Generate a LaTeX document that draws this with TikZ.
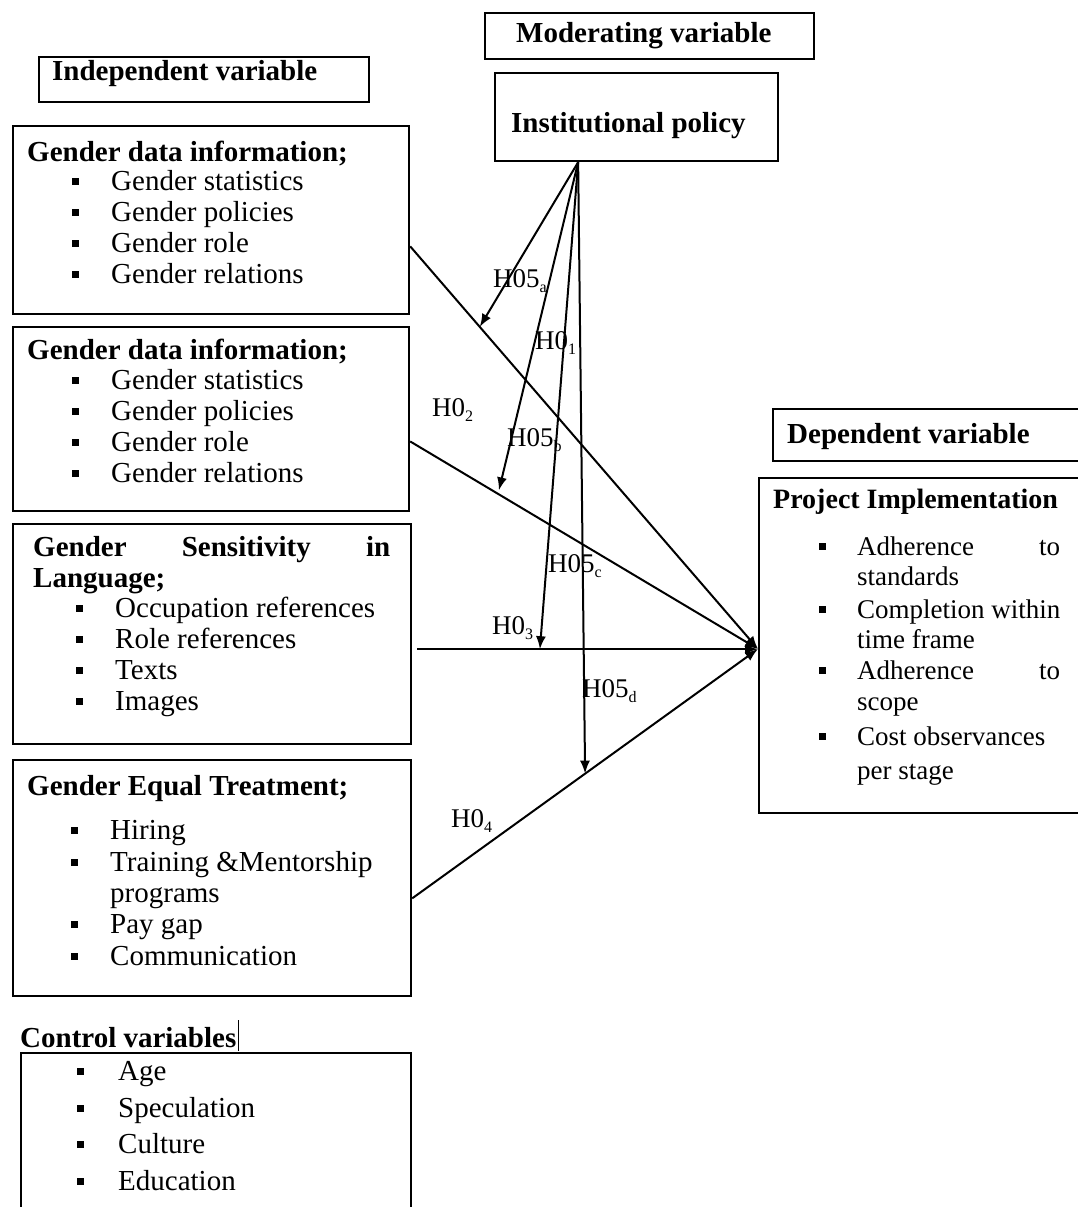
\documentclass[tikz,border=0pt]{standalone}
\usepackage{fontspec}
\setmainfont{Liberation Serif}
\usetikzlibrary{calc,arrows.meta}
\newcommand{\hsub}[1]{\raisebox{-5pt}{\fontsize{16}{16}\selectfont #1}}
\newcommand{\bitem}[6][txt]{\node[bul] (#2b) at (#3,#5-9) {}; \node[#1] (#2) at (#4,#5) {#6};}
\begin{document}
\begin{tikzpicture}[x=1pt,y=-1pt,
  box/.style={draw,line width=2.2pt,anchor=north west,inner sep=0pt,rectangle},
  txt/.style={anchor=base west,inner sep=0pt,font=\fontsize{29}{31}\selectfont},
  txts/.style={anchor=base west,inner sep=0pt,font=\fontsize{27}{31}\selectfont},
  hd/.style={anchor=base west,inner sep=0pt,font=\fontsize{29}{31}\selectfont\bfseries},
  hds/.style={anchor=base west,inner sep=0pt,font=\fontsize{28}{31}\selectfont\bfseries},
  bul/.style={anchor=center,fill=black,minimum size=7pt,inner sep=0pt,rectangle},
  lbl/.style={anchor=base west,inner sep=0pt,font=\fontsize{27}{28}\selectfont},
  conn/.style={line width=2pt},
  arr/.style={conn,-{Latex[length=13pt,width=10pt]}},
]
\useasboundingbox (0,0) rectangle (1078,1207);
\clip (0,0) rectangle (1078,1207);

% header boxes
\node[box,minimum width=329pt,minimum height=46pt] (modv) at (484,12) {};
\node[hd] (modvt) at (516,43) {Moderating variable};
\node[box,minimum width=330pt,minimum height=45pt] (indv) at (38,56) {};
\node[hd] (indvt) at (52,81) {Independent variable};
\node[box,minimum width=283pt,minimum height=88pt] (inst) at (494,72) {};
\node[hd] (instt) at (511,132) {Institutional policy};
\node[box,minimum width=330pt,minimum height=52pt] (depv) at (772,408) {};
\node[hd] (depvt) at (787,443) {Dependent variable};

% box 1
\node[box,minimum width=396pt,minimum height=188pt] (b1) at (12,125) {};
\node[hd] (b1h) at (27,161) {Gender data information;};
\bitem{b1i1}{75}{111}{190}{Gender statistics}
\bitem{b1i2}{75}{111}{221}{Gender policies}
\bitem{b1i3}{75}{111}{252}{Gender role}
\bitem{b1i4}{75}{111}{283}{Gender relations}

% box 2
\node[box,minimum width=396pt,minimum height=184pt] (b2) at (12,326) {};
\node[hd] (b2h) at (27,359) {Gender data information;};
\bitem{b2i1}{75}{111}{389}{Gender statistics}
\bitem{b2i2}{75}{111}{420}{Gender policies}
\bitem{b2i3}{75}{111}{451}{Gender role}
\bitem{b2i4}{75}{111}{482}{Gender relations}

% box 3
\node[box,minimum width=398pt,minimum height=220pt] (b3) at (12,523) {};
\node[hd] (b3h) at (33,556) {\makebox[357pt][s]{Gender Sensitivity in}};
\node[hd] (b3h2) at (33,587) {Language;};
\bitem{b3i1}{79}{115}{617}{Occupation references}
\bitem{b3i2}{79}{115}{648}{Role references}
\bitem{b3i3}{79}{115}{679}{Texts}
\bitem{b3i4}{79}{115}{710}{Images}

% box 4
\node[box,minimum width=398pt,minimum height=236pt] (b4) at (12,759) {};
\node[hd] (b4h) at (27,795) {Gender Equal Treatment;};
\bitem{b4i1}{74}{110}{839}{Hiring}
\bitem{b4i2}{74}{110}{871}{Training \&Mentorship}
\node[txt] (b4i2b) at (110,902) {programs};
\bitem{b4i3}{74}{110}{933}{Pay gap}
\bitem{b4i4}{74}{110}{965}{Communication}

% control variables
\node[hd] (ctlh) at (20,1047) {Control variables};
\draw[line width=1.4pt] ($(ctlh.east)+(2,-17)$) -- ($(ctlh.east)+(2,14)$);
\node[box,minimum width=390pt,minimum height=200pt] (ctl) at (20,1052) {};
\bitem{c1}{80}{118}{1080}{Age}
\bitem{c2}{80}{118}{1117}{Speculation}
\bitem{c3}{80}{118}{1153}{Culture}
\bitem{c4}{80}{118}{1190}{Education}

% project implementation
\node[box,minimum width=340pt,minimum height=335pt] (pi) at (758,477) {};
\node[hds] (pih) at (773,508) {Project Implementation};
\bitem[txts]{p1}{822}{857}{555}{\makebox[203pt][s]{Adherence to}}
\node[txts] (p1b) at (857,585) {standards};
\bitem[txts]{p2}{822}{857}{618}{Completion within}
\node[txts] (p2b) at (857,648) {time frame};
\bitem[txts]{p3}{822}{857}{679}{\makebox[203pt][s]{Adherence to}}
\node[txts] (p3b) at (857,710) {scope};
\bitem[txts]{p4}{822}{857}{745}{Cost observances}
\node[txts] (p4b) at (857,779) {per stage};

% connector coordinates
\coordinate (apex) at ($(inst.south west)!0.295!(inst.south east)$);
\coordinate (tgt) at ($(pi.north west)!0.51!(pi.south west)$);
\coordinate (s1) at ($(b1.north east)!0.638!(b1.south east)$);
\coordinate (s2) at ($(b2.north east)!0.62!(b2.south east)$);
\coordinate (s3) at ($(b3.north east)!0.568!(b3.south east)+(5,0)$);
\coordinate (s4) at ($(b4.north east)!0.585!(b4.south east)$);

% main arrows
\draw[arr] (s1) -- (tgt);
\draw[arr] (s2) -- (tgt);
\draw[arr] (s3) -- (s3 -| tgt);
\draw[arr] (s4) -- (tgt);

% moderating arrows
\draw[arr] (apex) -- ($(s1)!0.2!(tgt)$);
\draw[arr] (apex) -- ($(s2)!0.255!(tgt)+(0,-4)$);
\draw[arr] (apex) -- ($(s3)!0.36!(s3 -| tgt)$);
\draw[arr] (apex) -- ($(s4)!0.5!(tgt)$);

% labels
\node[lbl] (la) at (493,287) {H05\hsub{a}};
\node[lbl] (l1) at (535,349) {H0\hsub{1}};
\node[lbl] (l2) at (432,416) {H0\hsub{2}};
\node[lbl] (lb) at (507,446) {H05\hsub{b}};
\node[lbl] (lc) at (548,572) {H05\hsub{c}};
\node[lbl] (l3) at (492,634) {H0\hsub{3}};
\node[lbl] (ld) at (582,697) {H05\hsub{d}};
\node[lbl] (l4) at (451,827) {H0\hsub{4}};
\end{tikzpicture}
\end{document}
